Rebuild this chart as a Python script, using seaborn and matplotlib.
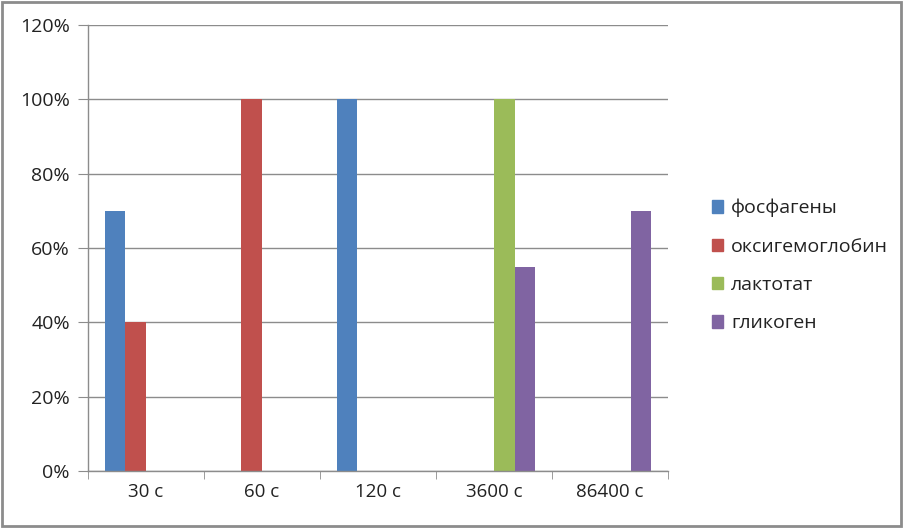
import numpy as np
import pandas as pd
import seaborn as sns

import matplotlib
matplotlib.use('Agg')
from matplotlib import pyplot as plt
from matplotlib.patches import Rectangle
from matplotlib.ticker import PercentFormatter

# chart values (fractions), NaN where a series has no bar
categories = ['30 с', '60 с', '120 с', '3600 с', '86400 с']
series = ['фосфагены', 'оксигемоглобин', 'лактотат', 'гликоген']
fosfageny = [0.70, np.nan, 1.00, np.nan, np.nan]
oksigemoglobin = [0.40, 1.00, np.nan, np.nan, np.nan]
laktotat = [np.nan, np.nan, np.nan, 1.00, np.nan]
glikogen = [np.nan, np.nan, np.nan, 0.55, 0.70]
colors = ['#4F81BD', '#C0504D', '#9BBB59', '#8064A2']

rows = []
for name, vals in zip(series, [fosfageny, oksigemoglobin, laktotat, glikogen]):
    for cat, v in zip(categories, vals):
        rows.append({'time': cat, 'series': name, 'value': v})
df = pd.DataFrame(rows)

sns.set_style('white')
plt.rcParams['font.family'] = ['Open Sans', 'DejaVu Sans']

fig = plt.figure(figsize=(9.04, 5.28), dpi=100)
ax = fig.add_axes([0.0973, 0.108, 0.6417, 0.8447])

sns.barplot(data=df, x='time', y='value', hue='series', order=categories,
            hue_order=series, palette=colors, width=0.71, saturation=1,
            linewidth=0, legend=False, ax=ax)

ax.set_ylim(0, 1.2)
ax.set_yticks(np.arange(0, 1.21, 0.2))
ax.yaxis.set_major_formatter(PercentFormatter(1.0, decimals=0))
ax.set_xlim(-0.5, 4.5)
ax.set_xlabel('')
ax.set_ylabel('')
ax.grid(axis='y', color='#8c8c8c', linewidth=1)
ax.set_axisbelow(True)
for s in ['top', 'right']:
    ax.spines[s].set_visible(False)
for s in ['left', 'bottom']:
    ax.spines[s].set_color('#8c8c8c')
    ax.spines[s].set_linewidth(1)

ax.tick_params(axis='y', length=7, color='#8c8c8c', labelsize=14, pad=6,
               labelcolor='#222222', left=True)
ax.tick_params(axis='x', which='major', length=0, labelsize=13.5, pad=9,
               labelcolor='#222222')
ax.set_xticks(np.arange(-0.5, 4.6, 1), minor=True)
ax.tick_params(axis='x', which='minor', length=6, color='#8c8c8c', bottom=True)

handles = [Rectangle((0, 0), 1, 1, color=c) for c in colors]
fig.legend(handles, series, loc='center left', bbox_to_anchor=(0.768, 0.497),
           frameon=False, fontsize=14, handlelength=0.6, handleheight=0.6,
           handletextpad=0.4, labelspacing=1.05, labelcolor='#222222')

fig.patches.append(Rectangle((0.002, 0.004), 0.995, 0.992, transform=fig.transFigure,
                             fill=False, edgecolor='#8c8c8c', linewidth=2))

plt.savefig('out.png', dpi=100)
